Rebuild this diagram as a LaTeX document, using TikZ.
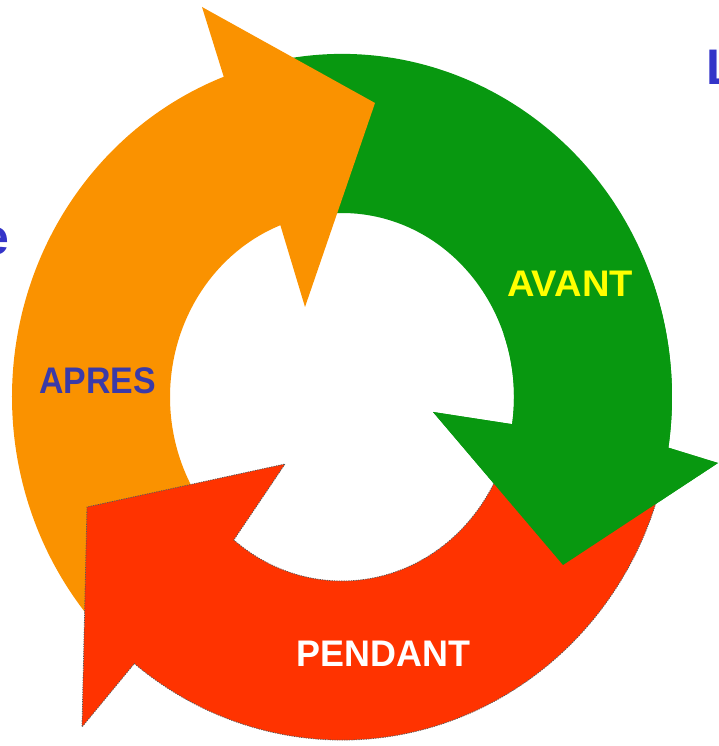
\documentclass[tikz,border=0pt]{standalone}
\usepackage{fontspec}
\setmainfont{Liberation Sans}
\usetikzlibrary{calc}
\definecolor{cOrange}{RGB}{250,146,0}
\definecolor{cGreen}{RGB}{8,152,16}
\definecolor{cRed}{RGB}{255,51,0}
\definecolor{cBlue}{RGB}{58,58,168}
\definecolor{cBlueB}{RGB}{52,52,200}
\definecolor{cYellow}{RGB}{255,255,0}
\begin{document}
\begin{tikzpicture}[x=1pt,y=1pt,
  lbl/.style={font=\bfseries\fontsize{37}{40}\selectfont, inner sep=0pt, transform shape},
  edgetext/.style={font=\bfseries\fontsize{50}{55}\selectfont, text=cBlueB, inner sep=0pt},
  greenarrow/.style={fill=cGreen},
  orangearrow/.style={fill=cOrange},
  redarrow/.style={fill=cRed, draw=black!65, line width=0.8pt, dash pattern=on 1.2pt off 1.2pt},
  outerarc/.style={x radius=330pt, y radius=343pt},
  innerarc/.style={x radius=172pt, y radius=184pt},
]
\useasboundingbox (0,0) rectangle (719,746);
\clip (0,0) rectangle (719,746);
\coordinate (C) at (342,349);
% head points
\coordinate (gOut) at (718,283);
\coordinate (gTip) at (563,181);
\coordinate (gIn)  at (433,334);
\coordinate (oOut) at (202,739);
\coordinate (oTip) at (375,643);
\coordinate (oIn)  at (305,439);
\coordinate (rOut) at (82,19);
\coordinate (rTip) at (87,239);
\coordinate (rIn)  at (285,282);
% green (AVANT)
\path[greenarrow] ($(C)+(108:330pt and 343pt)$)
  arc[start angle=108, end angle=-8.5, outerarc]
  -- (gOut) -- (gTip) -- (gIn)
  -- ($(C)+(-8.5:172pt and 184pt)$)
  arc[start angle=-8.5, end angle=108, innerarc] -- cycle;
% orange (APRES)
\path[orangearrow] ($(C)+(222:330pt and 343pt)$)
  arc[start angle=222, end angle=111, outerarc]
  -- (oOut) -- (oTip) -- (oIn)
  -- ($(C)+(111:172pt and 184pt)$)
  arc[start angle=111, end angle=222, innerarc] -- cycle;
% red (PENDANT)
\path[redarrow] ($(C)+(-12:330pt and 343pt)$)
  arc[start angle=-12, end angle=-129, outerarc]
  -- (rOut) -- (rTip) -- (rIn)
  -- ($(C)+(-129:172pt and 184pt)$)
  arc[start angle=-129, end angle=-12, innerarc] -- cycle;
% green head again, over the red
\path[greenarrow] ($(C)+(20:330pt and 343pt)$)
  arc[start angle=20, end angle=-8.5, outerarc]
  -- (gOut) -- (gTip) -- (gIn)
  -- ($(C)+(-8.5:172pt and 184pt)$)
  arc[start angle=-8.5, end angle=20, innerarc] -- cycle;
% labels
\node[lbl, text=cBlue, xscale=0.915] (apres) at (97.5,365) {APRES};
\node[lbl, text=cYellow, xscale=1.03] (avant) at (570,462) {AVANT};
\node[lbl, text=white, xscale=0.97] (pendant) at (383.5,92.5) {PENDANT};
\node[edgetext, anchor=base west] (cutL) at (706,661) {L};
\node[edgetext, anchor=base east] (cutE) at (10,491) {e};
\end{tikzpicture}
\end{document}
